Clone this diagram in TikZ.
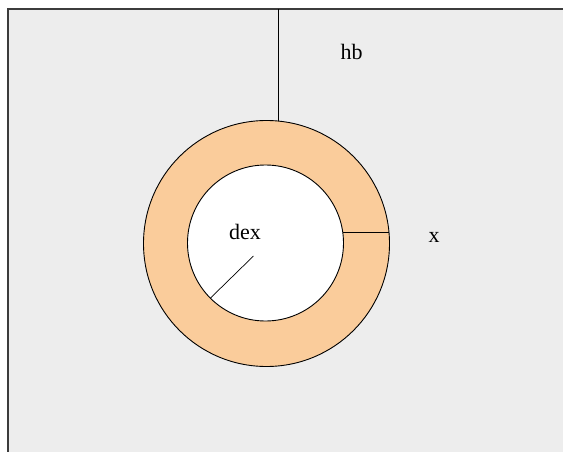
\documentclass[tikz,border=0pt]{standalone}
\usepackage{fontspec}
\setmainfont{Liberation Serif}
\usetikzlibrary{calc}
\definecolor{peach}{RGB}{250,204,155}
\definecolor{bggray}{RGB}{237,237,237}
\definecolor{framegray}{RGB}{60,60,60}
\begin{document}
\begin{tikzpicture}[x=1pt,y=-1pt,
  ring/.style={circle,draw=black,line width=0.9pt,inner sep=0pt,outer sep=0pt},
  lbl/.style={inner sep=0pt,anchor=base,font=\fontsize{22}{26}\selectfont},
  rule/.style={draw=black,line width=0.9pt}]
\useasboundingbox (0,0) rectangle (563,452);
\fill[white] (0,0) rectangle (563,452);
\fill[bggray] (8,9) rectangle (563,452);
\draw[framegray,line width=1.8pt] (8,452) -- (8,9) -- (563,9);
\node[ring,fill=peach,minimum size=246pt] (outer) at (266.5,243.5) {};
\node[ring,fill=white,minimum size=156pt] (inner) at (265.5,243) {};
\coordinate (topend) at (278,9);
\coordinate (rstart) at ($(inner.center)+(-12,13)$);
\draw[rule] (topend) -- (topend |- outer.84.6);
\draw[rule] (inner.8.9) -- (outer.5.6 |- inner.8.9);
\draw[draw=black,line width=0.7pt] (rstart) -- (inner.225);
\node[lbl] (hb) at (351.5,60) {hb};
\node[lbl] (dex) at (245,239) {dex};
\node[lbl] (xl) at (434,242) {x};
\end{tikzpicture}
\end{document}
